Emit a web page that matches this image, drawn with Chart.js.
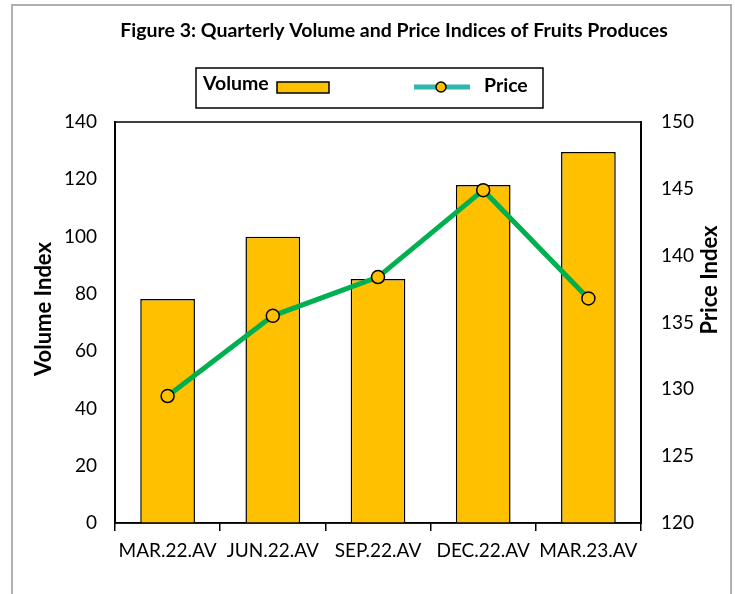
<!DOCTYPE html>
<html>
<head>
<meta charset="utf-8">
<script src="https://cdn.jsdelivr.net/npm/chart.js@4"></script>
<style>
  html, body { margin: 0; padding: 0; background: #fff; }
  #wrap { position: relative; width: 735px; height: 594px; }
</style>
</head>
<body>
<div id="wrap"><canvas id="chart" width="735" height="594"></canvas></div>
<script>
// chart data
const quarters = ['MAR.22.AV', 'JUN.22.AV', 'SEP.22.AV', 'DEC.22.AV', 'MAR.23.AV'];
const volumeIndex = [78.2, 99.9, 85.2, 118.0, 129.5];
const priceIndex = [129.5, 135.5, 138.4, 144.9, 136.8];
const volumeTicks = [0, 20, 40, 60, 80, 100, 120, 140];
const priceTicks = [120, 125, 130, 135, 140, 145, 150];

const FONT = 'Lato, "DejaVu Sans", sans-serif';

function rotatedText(c, text, x, y) {
    c.save();
    c.translate(x, y);
    c.rotate(-Math.PI / 2);
    c.fillText(text, 0, 0);
    c.restore();
}

// outer frame, plot box, title, axis titles and legend
const decor = {
    id: 'decor',
    beforeDraw(chart) {
        const c = chart.ctx;
        c.save();
        c.fillStyle = '#fff';
        c.fillRect(0, 0, chart.width, chart.height);
        c.strokeStyle = '#b0b0b0';
        c.lineWidth = 2;
        c.strokeRect(12, 5, 719, 600);
        c.restore();
    },
    afterDraw(chart) {
        const c = chart.ctx;
        const a = chart.chartArea;
        c.save();
        // plot box
        c.strokeStyle = '#000';
        c.lineWidth = 1.5;
        c.strokeRect(a.left, a.top, a.right - a.left, a.bottom - a.top);

        // title
        c.fillStyle = '#000';
        c.font = 'bold 19.5px ' + FONT;
        c.textAlign = 'center';
        c.textBaseline = 'middle';
        c.fillText('Figure 3: Quarterly Volume and Price Indices of Fruits Produces', 394, 31);

        // axis titles
        c.font = 'bold 22px ' + FONT;
        rotatedText(c, 'Volume Index', 44, 309);
        rotatedText(c, 'Price Index', 710, 280);

        // legend box
        c.lineWidth = 1.5;
        c.strokeRect(196, 68, 347, 40);
        c.font = 'bold 19.5px ' + FONT;
        c.textAlign = 'left';
        c.fillText('Volume', 203, 84);
        c.fillStyle = '#FFC000';
        c.fillRect(277, 82, 52, 11);
        c.strokeRect(277, 82, 52, 11);
        c.strokeStyle = '#2EB8AC';
        c.lineWidth = 5;
        c.beginPath();
        c.moveTo(414, 87);
        c.lineTo(470, 87);
        c.stroke();
        c.beginPath();
        c.arc(441, 87, 5, 0, Math.PI * 2);
        c.fillStyle = '#FFC000';
        c.fill();
        c.strokeStyle = '#000';
        c.lineWidth = 1.5;
        c.stroke();
        c.fillStyle = '#000';
        c.fillText('Price', 484, 86);
        c.restore();
    }
};

new Chart(document.getElementById('chart'), {
    data: {
        labels: quarters,
        datasets: [
            {
                type: 'line',
                label: 'Price',
                data: priceIndex,
                yAxisID: 'yPrice',
                borderColor: '#00B050',
                borderWidth: 5,
                pointRadius: 6.5,
                pointBackgroundColor: '#FFC000',
                pointBorderColor: '#000',
                pointBorderWidth: 1.5,
                tension: 0,
                order: 0
            },
            {
                type: 'bar',
                label: 'Volume',
                data: volumeIndex,
                yAxisID: 'yVol',
                backgroundColor: '#FFC000',
                borderColor: '#000',
                borderWidth: 1.5,
                barPercentage: 0.52,
                categoryPercentage: 1,
                order: 1
            }
        ]
    },
    options: {
        responsive: false,
        animation: false,
        layout: { padding: { left: 14, right: 10, top: 122, bottom: 21 } },
        plugins: {
            legend: { display: false },
            title: { display: false },
            tooltip: { enabled: false }
        },
        scales: {
            x: {
                offset: true,
                grid: { display: true, offset: true, drawOnChartArea: false, drawTicks: true, tickLength: 8, color: '#000', lineWidth: 1.5 },
                border: { display: true, color: '#000', width: 1.5 },
                ticks: { color: '#000', font: { family: FONT, size: 19 }, padding: 8, maxRotation: 0, autoSkip: false },
                afterFit(s) { s.height = 50; }
            },
            yVol: {
                position: 'left',
                min: 0,
                max: 140,
                afterBuildTicks(s) { s.ticks = volumeTicks.map(v => ({ value: v })); },
                grid: { display: false },
                border: { display: true, color: '#000', width: 2 },
                ticks: { color: '#000', font: { family: FONT, size: 19 }, padding: 10 },
                afterFit(s) { s.width = 101; }
            },
            yPrice: {
                position: 'right',
                min: 120,
                max: 150,
                afterBuildTicks(s) { s.ticks = priceTicks.map(v => ({ value: v })); },
                grid: { display: false },
                border: { display: true, color: '#000', width: 2 },
                ticks: { color: '#000', font: { family: FONT, size: 19 }, padding: 12 },
                afterFit(s) { s.width = 84; }
            }
        }
    },
    plugins: [decor]
});
</script>
</body>
</html>
